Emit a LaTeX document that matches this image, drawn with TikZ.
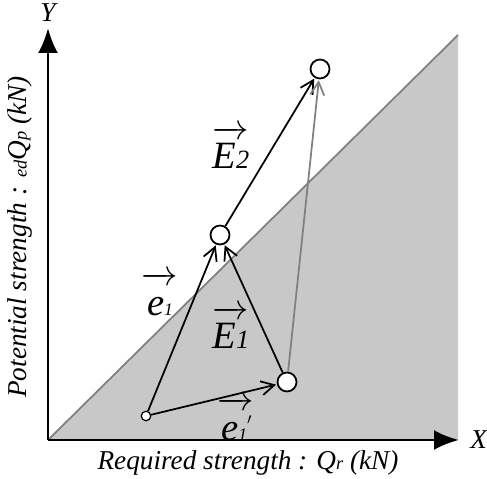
\documentclass[tikz,border=0pt]{standalone}
\usepackage{fontspec}
\setmainfont{Liberation Serif}
\usepackage{tikz}
\usetikzlibrary{arrows.meta,positioning,calc}
\definecolor{zone}{RGB}{200,200,200}
\tikzset{
  axis/.style   ={line width=1.7pt,-{Latex[length=5mm,width=4mm]}},
  vec/.style    ={line width=1pt,-{Straight Barb[length=2.6mm,width=2.8mm,line width=1pt]},shorten >=0.5pt},
  greyvec/.style={vec,draw=black!50},
  pnt/.style    ={circle,draw,line width=1pt,fill=white,minimum size=3.8mm,inner sep=0pt},
  spnt/.style   ={circle,draw,line width=0.7pt,fill=white,minimum size=1.9mm,inner sep=0pt},
  lab/.style    ={font=\fontsize{22}{24}\selectfont\itshape,inner sep=1pt},
  axlab/.style  ={font=\fontsize{15.5}{17}\selectfont\itshape},
}
\newcommand{\vlab}[2]{$\overrightarrow{\mbox{\rule{0pt}{0.8em}#1{\fontsize{15}{16}\selectfont #2}}}$}
\newcommand{\slab}[2]{$\overrightarrow{\mbox{\rule{0pt}{0.82em}#1{\fontsize{10}{11}\selectfont #2}}}$}
\begin{document}
\begin{tikzpicture}[x=0.02cm,y=-0.02cm]
  \useasboundingbox (0,0) rectangle (487,479);
  % safe zone below the diagonal
  \coordinate (o) at (48,440); \coordinate (tr) at (458,35); \coordinate (br) at (458,440);
  \fill[zone] (o)--(tr)--(br)--cycle;
  \draw[black!50,line width=1pt] (o)--(tr);
  \draw[axis] (o)--(459,440) coordinate (xend);
  \draw[axis] (o)--(48,28) coordinate (yend);
  \node[axlab,right=3pt of xend] (xl) {X};
  \node[axlab,above=0pt of yend] (yl) {Y};
  \node[axlab] (xt) at (248,463) {Required strength : \textit{Q}{\fontsize{10.5}{11}\selectfont\itshape r} (kN)};
  \node[axlab,rotate=90] (yt) at (20,237) {Potential strength : {\fontsize{10.5}{11}\selectfont\itshape ed}\textit{Q}{\fontsize{10.5}{11}\selectfont\itshape p} (kN)};
  % points
  \node[spnt](p0) at (146,416){};  \node[pnt](p1) at (287,382){};
  \node[pnt](p2) at (220,235){};   \node[pnt](p3) at (320,69){};
  \draw[vec](p0)--(p2); \draw[vec](p0)--(p1); \draw[vec](p1)--(p2);
  \draw[vec](p2)--(p3); \draw[greyvec](p1)--(p3);
  % labels
  \node[lab](l2) at (231,147){\vlab{E}{2}};
  \node[lab](l1) at (231,327){\vlab{E}{1}};
  \node[lab](k1) at (160,294){\slab{e}{1}};
  \node[lab](k2) at (236,419){\slab{e}{1\makebox[0pt][l]{\raisebox{0.5em}{\fontsize{13}{13}\selectfont$'$}}\hspace{2pt}}};
\end{tikzpicture}
\end{document}
